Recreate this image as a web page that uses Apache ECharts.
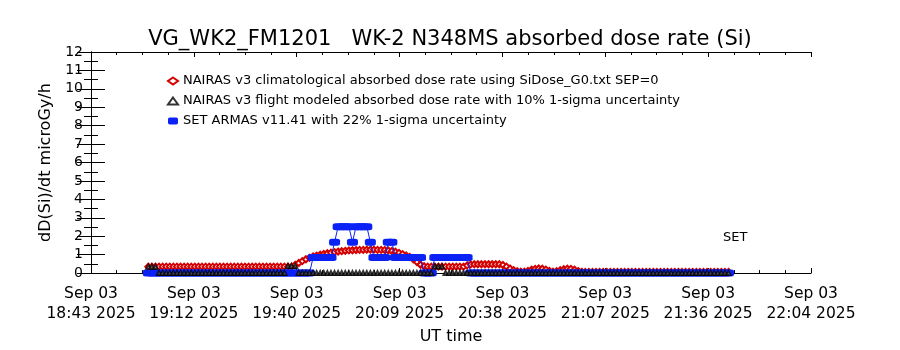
<!DOCTYPE html>
<html>
<head>
<meta charset="utf-8">
<script src="https://cdn.jsdelivr.net/npm/echarts@6/dist/echarts.min.js"></script>
<style>
  html, body { margin: 0; background: #fff; }
  #chart { width: 900px; height: 350px; }
</style>
</head>
<body>
<div id="chart"></div>
<script>
// samples every minute, t = minutes after 18:43 UT, first sample at t0
var t0 = 16
var tickStep = 1723 // seconds between labelled x ticks
var tickLabels = [
  'Sep 03\n18:43 2025', 'Sep 03\n19:12 2025', 'Sep 03\n19:40 2025', 'Sep 03\n20:09 2025',
  'Sep 03\n20:38 2025', 'Sep 03\n21:07 2025', 'Sep 03\n21:36 2025', 'Sep 03\n22:04 2025'
]
var seriesNames = [
  'NAIRAS v3 climatological absorbed dose rate using SiDose_G0.txt SEP=0',
  'NAIRAS v3 flight modeled absorbed dose rate with 10% 1-sigma uncertainty',
  'SET ARMAS v11.41 with 22% 1-sigma uncertainty'
]

// NAIRAS climatological (red diamonds)
var climValues = [
  0.35, 0.35, 0.35, 0.35, 0.35, 0.35, 0.35, 0.35, 0.35, 0.35,
  0.35, 0.35, 0.35, 0.35, 0.35, 0.35, 0.35, 0.35, 0.35, 0.35,
  0.35, 0.35, 0.35, 0.35, 0.35, 0.35, 0.35, 0.35, 0.35, 0.35,
  0.35, 0.35, 0.35, 0.35, 0.35, 0.35, 0.35, 0.35, 0.35, 0.35,
  0.35, 0.45, 0.55, 0.65, 0.75, 0.83, 0.90, 0.95, 1.00, 1.04,
  1.08, 1.11, 1.14, 1.17, 1.19, 1.21, 1.23, 1.24, 1.25, 1.26,
  1.26, 1.27, 1.27, 1.27, 1.26, 1.26, 1.25, 1.23, 1.20, 1.16,
  1.10, 1.03, 0.96, 0.88, 0.75, 0.60, 0.45, 0.37, 0.35, 0.35,
  0.35, 0.35, 0.35, 0.35, 0.35, 0.35, 0.35, 0.35, 0.35, 0.42,
  0.47, 0.48, 0.48, 0.48, 0.48, 0.48, 0.48, 0.48, 0.48, 0.44,
  0.35, 0.25, 0.16, 0.10, 0.08, 0.08, 0.12, 0.18, 0.23, 0.25,
  0.24, 0.19, 0.12, 0.08, 0.10, 0.16, 0.21, 0.24, 0.23, 0.18,
  0.11, 0.07, 0.06, 0.06, 0.06, 0.06, 0.06, 0.06, 0.06, 0.06,
  0.06, 0.06, 0.06, 0.06, 0.06, 0.06, 0.06, 0.06, 0.06, 0.06,
  0.06, 0.06, 0.06, 0.06, 0.06, 0.06, 0.06, 0.06, 0.06, 0.06,
  0.06, 0.06, 0.06, 0.06, 0.06, 0.06, 0.06, 0.06, 0.06, 0.06,
  0.06, 0.06, 0.06
]

// NAIRAS flight modeled (black triangles)
var flightValues = [
  0.35, 0.35, 0.35, 0, 0, 0, 0, 0, 0, 0,
  0, 0, 0, 0, 0, 0, 0, 0, 0, 0,
  0, 0, 0, 0, 0, 0, 0, 0, 0, 0,
  0, 0, 0, 0, 0, 0, 0, 0, 0, 0.38,
  0.38, 0.38, 0, 0, 0, 0, 0, 0, 0, 0,
  0, 0, 0, 0, 0, 0, 0, 0, 0, 0,
  0, 0, 0, 0, 0, 0, 0, 0, 0, 0,
  0, 0, 0, 0, 0, 0, 0, 0, 0, 0,
  0.36, 0.36, 0.36, 0, 0, 0, 0, 0, 0, 0,
  0, 0, 0, 0, 0, 0, 0, 0, 0, 0,
  0, 0, 0, 0, 0, 0, 0, 0, 0, 0,
  0, 0, 0, 0, 0, 0, 0, 0, 0, 0,
  0, 0, 0, 0, 0, 0, 0, 0, 0, 0,
  0, 0, 0, 0, 0, 0, 0, 0, 0, 0,
  0, 0, 0, 0, 0, 0, 0, 0, 0, 0,
  0, 0, 0, 0, 0, 0, 0, 0, 0, 0,
  0, 0, 0
]

// SET ARMAS measured (blue)
var armasValues = [
  0, 0, 0, 0, 0, 0, 0, 0, 0, 0,
  0, 0, 0, 0, 0, 0, 0, 0, 0, 0,
  0, 0, 0, 0, 0, 0, 0, 0, 0, 0,
  0, 0, 0, 0, 0, 0, 0, 0, 0, 0,
  0, 0, 0, 0, 0, 0, 0.84, 0.84, 0.84, 0.84,
  0.84, 0.84, 1.68, 2.52, 2.52, 2.52, 2.52, 1.68, 2.52, 2.52,
  2.52, 2.52, 1.68, 0.84, 0.84, 0.84, 0.84, 1.68, 1.68, 0.84,
  0.84, 0.84, 0.84, 0.84, 0.84, 0.84, 0.84, 0, 0, 0,
  0.84, 0.84, 0.84, 0.84, 0.84, 0.84, 0.84, 0.84, 0.84, 0.84,
  0, 0, 0, 0, 0, 0, 0, 0, 0, 0,
  0, 0, 0, 0, 0, 0, 0, 0, 0, 0,
  0, 0, 0, 0, 0, 0, 0, 0, 0, 0,
  0, 0, 0, 0, 0, 0, 0, 0, 0, 0,
  0, 0, 0, 0, 0, 0, 0, 0, 0, 0,
  0, 0, 0, 0, 0, 0, 0, 0, 0, 0,
  0, 0, 0, 0, 0, 0, 0, 0, 0, 0,
  0, 0, 0
]

var font = 'DejaVu Sans'

function pairs(values) {
  return values.map(function (v, i) { return [(t0 + i) * 60, v] })
}

var chart = echarts.init(document.getElementById('chart'))

var xCommon = {
  type: 'value',
  min: 0,
  max: tickStep * 7,
  interval: tickStep,
  splitLine: { show: false },
  axisLine: { show: true, onZero: false, lineStyle: { color: '#000', width: 1 } },
  axisTick: { show: true, inside: true, length: 5, lineStyle: { color: '#000' } },
  minorTick: { show: true, splitNumber: 4, length: 3, lineStyle: { color: '#000' } }
}
var yCommon = {
  type: 'value',
  min: 0,
  max: 12,
  interval: 1,
  splitLine: { show: false },
  axisLine: { show: true, lineStyle: { color: '#000', width: 1 } },
  axisTick: { show: true, inside: true, length: 14, lineStyle: { color: '#000' } },
  minorTick: { show: true, splitNumber: 2, length: 7, lineStyle: { color: '#000' } }
}

chart.setOption({
  backgroundColor: '#fff',
  animation: false,
  title: {
    text: 'VG_WK2_FM1201   WK-2 N348MS absorbed dose rate (Si)',
    left: 'center',
    top: 24,
    textStyle: { fontFamily: font, fontSize: 21, fontWeight: 'normal', color: '#000' }
  },
  legend: {
    orient: 'vertical',
    left: 162,
    top: 69,
    itemWidth: 10,
    itemHeight: 7,
    itemGap: 6,
    textStyle: { fontFamily: font, fontSize: 13, color: '#000', lineHeight: 14 },
    data: [
      { name: seriesNames[0], icon: 'emptyDiamond' },
      { name: seriesNames[1], icon: 'emptyTriangle' },
      { name: seriesNames[2], icon: 'roundRect' }
    ]
  },
  grid: { left: 91, right: 89, top: 52, bottom: 71 },
  xAxis: [
    Object.assign({}, xCommon, {
      position: 'bottom',
      name: 'UT time',
      nameLocation: 'middle',
      nameGap: 52,
      nameTextStyle: { fontFamily: font, fontSize: 16, color: '#000' },
      axisLabel: {
        margin: 11,
        fontFamily: font,
        fontSize: 15.5,
        lineHeight: 20,
        color: '#000',
        formatter: function (v) { return tickLabels[Math.round(v / tickStep)] }
      }
    }),
    Object.assign({}, xCommon, { position: 'top', axisLabel: { show: false } })
  ],
  yAxis: [
    Object.assign({}, yCommon, {
      position: 'left',
      name: 'dD(Si)/dt microGy/h',
      nameLocation: 'middle',
      nameGap: 36,
      nameTextStyle: { fontFamily: font, fontSize: 16, color: '#000' },
      axisLabel: { margin: 8, fontFamily: font, fontSize: 14, color: '#000' }
    }),
    Object.assign({}, yCommon, { position: 'right', axisLabel: { show: false } })
  ],
  graphic: [{
    type: 'text',
    left: 723,
    top: 231,
    style: { text: 'SET', font: '13px "DejaVu Sans"', fill: '#000' }
  }],
  series: [
    {
      name: seriesNames[0],
      type: 'line',
      data: pairs(climValues),
      symbol: 'emptyDiamond',
      symbolSize: 6,
      itemStyle: { color: '#d40000', borderWidth: 1 },
      lineStyle: { color: '#d40000', width: 1 },
      z: 2
    },
    {
      name: seriesNames[2],
      type: 'line',
      data: pairs(armasValues),
      symbol: 'roundRect',
      symbolSize: [11, 7],
      itemStyle: { color: '#0a22f5' },
      lineStyle: { color: '#0a22f5', width: 1 },
      z: 3
    },
    {
      name: seriesNames[1],
      type: 'scatter',
      data: pairs(flightValues),
      symbol: 'emptyTriangle',
      symbolSize: 4,
      itemStyle: { color: '#000', borderWidth: 1 },
      z: 4
    }
  ]
})
</script>
</body>
</html>
